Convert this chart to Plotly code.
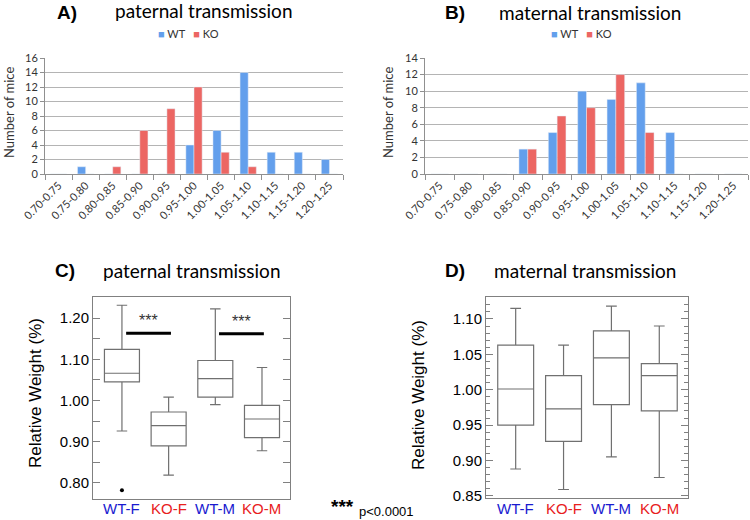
import plotly.graph_objects as go

# ---------------- data ----------------
bins = ["0.70-0.75", "0.75-0.80", "0.80-0.85", "0.85-0.90", "0.90-0.95", "0.95-1.00",
        "1.00-1.05", "1.05-1.10", "1.10-1.15", "1.15-1.20", "1.20-1.25"]
pat_wt = [0, 1, 0, 0, 0, 4, 6, 14, 3, 3, 2]
pat_ko = [0, 0, 1, 6, 9, 12, 3, 1, 0, 0, 0]
mat_wt = [0, 0, 0, 3, 5, 10, 9, 11, 5, 0, 0]
mat_ko = [0, 0, 0, 3, 7, 8, 12, 5, 0, 0, 0]

groups = ["WT-F", "KO-F", "WT-M", "KO-M"]
group_colors = ["#1a1ad0", "#e8201c", "#1a1ad0", "#e8201c"]

pat_lo = [0.926, 0.819, 0.990, 0.878]
pat_q1 = [1.045, 0.890, 1.008, 0.910]
pat_med = [1.066, 0.939, 1.053, 0.955]
pat_q3 = [1.124, 0.972, 1.097, 0.988]
pat_hi = [1.231, 1.008, 1.222, 1.080]
pat_out_x = ["WT-F"]
pat_out_y = [0.782]

mat_lo = [0.888, 0.859, 0.905, 0.876]
mat_q1 = [0.950, 0.927, 0.979, 0.970]
mat_med = [1.001, 0.973, 1.045, 1.020]
mat_q3 = [1.063, 1.020, 1.083, 1.037]
mat_hi = [1.115, 1.063, 1.118, 1.090]

# significance bars in panel C (x from, x to, y)
sig_bars = [(0.09, 1.05, 1.163), (2.08, 3.04, 1.162)]

WT_COL = "#639fec"
KO_COL = "#ec6663"
BOX_LINE = "#707070"
TITLE_FONT = "Lato"
BODY_FONT = "Liberation Sans"

W, H = 750, 520


def px_x(x):
    return x / W


def px_y(y):
    return 1 - y / H


fig = go.Figure()

# ---------------- histograms ----------------
fig.add_trace(go.Bar(x=bins, y=pat_wt, name="WT", marker_color=WT_COL, xaxis="x", yaxis="y"))
fig.add_trace(go.Bar(x=bins, y=pat_ko, name="KO", marker_color=KO_COL, xaxis="x", yaxis="y"))
fig.add_trace(go.Bar(x=bins, y=mat_wt, name="WT", marker_color=WT_COL, xaxis="x2", yaxis="y2"))
fig.add_trace(go.Bar(x=bins, y=mat_ko, name="KO", marker_color=KO_COL, xaxis="x2", yaxis="y2"))

# ---------------- box plots ----------------
box_common = dict(fillcolor="white", line=dict(color=BOX_LINE, width=1.2), width=0.75,
                  whiskerwidth=0.3, boxpoints=False, hoverinfo="skip")
fig.add_trace(go.Box(x=groups, q1=pat_q1, median=pat_med, q3=pat_q3, lowerfence=pat_lo,
                     upperfence=pat_hi, xaxis="x3", yaxis="y3", **box_common))
fig.add_trace(go.Scatter(x=pat_out_x, y=pat_out_y, mode="markers", marker=dict(color="black", size=4),
                         xaxis="x3", yaxis="y3"))
fig.add_trace(go.Box(x=groups, q1=mat_q1, median=mat_med, q3=mat_q3, lowerfence=mat_lo,
                     upperfence=mat_hi, xaxis="x4", yaxis="y4", **box_common))

hist_x = dict(type="category", tickangle=-45, tickson="boundaries", ticks="outside", ticklen=5,
              tickcolor="#909090", showline=True, linecolor="#909090", showgrid=False, automargin=False,
              tickfont=dict(family=TITLE_FONT, size=11, color="#333"))
hist_y = dict(dtick=2, showgrid=True, gridcolor="#b4b4b4", showline=True, linecolor="#909090",
              ticks="outside", ticklen=4, tickcolor="#909090", zeroline=False, automargin=False,
              tickfont=dict(family=TITLE_FONT, size=11, color="#333"))

box_x = dict(type="category", range=[-0.62, 3.6], showline=True, mirror=True, linecolor="#808080",
             ticks="", showticklabels=False, showgrid=False, automargin=False)
box_y = dict(tick0=0, tickformat=".2f", ticks="inside", ticklen=7, tickcolor="#808080",
             showline=True, mirror="ticks", linecolor="#808080", showgrid=False, zeroline=False,
             automargin=False, tickfont=dict(family=BODY_FONT, size=15))

fig.update_layout(
    width=W, height=H, margin=dict(l=0, r=0, t=0, b=0, autoexpand=False),
    paper_bgcolor="white", plot_bgcolor="white", showlegend=False,
    font=dict(family=BODY_FONT, color="black"),
    bargap=0.4, bargroupgap=0,
    xaxis=dict(domain=[px_x(45), px_x(343)], anchor="y", **hist_x),
    yaxis=dict(domain=[px_y(174), px_y(58)], anchor="x", range=[0, 16], **hist_y),
    xaxis2=dict(domain=[px_x(425), px_x(748)], anchor="y2", **hist_x),
    yaxis2=dict(domain=[px_y(174), px_y(58)], anchor="x2", range=[0, 14], **hist_y),
    xaxis3=dict(domain=[px_x(93), px_x(290)], anchor="y3", **box_x),
    yaxis3=dict(domain=[px_y(499), px_y(297)], anchor="x3", range=[0.761, 1.251], dtick=0.1,
                minor=dict(dtick=0.05, tick0=0, ticks="inside", ticklen=7, tickcolor="#808080"),
                **box_y),
    xaxis4=dict(domain=[px_x(486), px_x(688)], anchor="y4", **box_x),
    yaxis4=dict(domain=[px_y(498), px_y(297)], anchor="x4", range=[0.847, 1.131], dtick=0.05,
                minor=dict(dtick=0.01, tick0=0, ticks="inside", ticklen=4, tickcolor="#808080"),
                **box_y),
)

# category labels under box plots
for ax in ("x3", "x4"):
    for g, c in zip(groups, group_colors):
        fig.add_annotation(xref=ax, yref="paper", x=g, y=px_y(508), text=g, showarrow=False,
                           xanchor="center", yanchor="middle",
                           font=dict(family=BODY_FONT, size=15, color=c))

# y-axis titles
ytitles = [("Number of mice", 9, 113, TITLE_FONT, 13, "#333"),
           ("Number of mice", 388, 113, TITLE_FONT, 13, "#333"),
           ("Relative Weight (%)", 35, 393, BODY_FONT, 17, "black"),
           ("Relative Weight (%)", 418, 395, BODY_FONT, 17, "black")]
for txt, x, y, fam, sz, col in ytitles:
    fig.add_annotation(xref="paper", yref="paper", x=px_x(x), y=px_y(y), text=txt, textangle=-90,
                       showarrow=False, xanchor="center", yanchor="middle",
                       font=dict(family=fam, size=sz, color=col))

# legends (A and B)
for cx in (188, 581):
    fig.add_annotation(xref="paper", yref="paper", x=px_x(cx), y=px_y(33),
                       text=f"<span style='color:{WT_COL}'>■</span> WT   <span style='color:{KO_COL}'>■</span> KO",
                       showarrow=False, xanchor="center", yanchor="middle",
                       font=dict(family=TITLE_FONT, size=11, color="#333"))

# significance bars
for x0, x1, y in sig_bars:
    fig.add_shape(type="line", xref="x3", yref="y3", x0=x0, x1=x1, y0=y, y1=y,
                  line=dict(color="black", width=3))
    fig.add_annotation(xref="x3", yref="y3", x=(x0 + x1) / 2, y=y + 0.005, text="***",
                       showarrow=False, yanchor="bottom", font=dict(family=BODY_FONT, size=16, color="#333"))

# panel titles
titles = [("A)", 67, 12, "paternal transmission", 204, 10),
          ("B)", 455, 12, "maternal transmission", 590, 12),
          ("C)", 65, 270, "paternal transmission", 192, 270),
          ("D)", 455, 270, "maternal transmission", 585, 270)]
for lab, lx, ly, txt, tx, ty in titles:
    fig.add_annotation(xref="paper", yref="paper", x=px_x(lx), y=px_y(ly), text=f"<b>{lab}</b>",
                       showarrow=False, xanchor="center", yanchor="middle",
                       font=dict(family=BODY_FONT, size=19, color="black"))
    fig.add_annotation(xref="paper", yref="paper", x=px_x(tx), y=px_y(ty), text=txt,
                       showarrow=False, xanchor="center", yanchor="middle",
                       font=dict(family=TITLE_FONT, size=19, color="black"))

# p-value footnote
fig.add_annotation(xref="paper", yref="paper", x=px_x(329), y=px_y(506), text="<b>***</b>",
                   showarrow=False, xanchor="left", yanchor="middle",
                   font=dict(family=BODY_FONT, size=19, color="black"))
fig.add_annotation(xref="paper", yref="paper", x=px_x(357), y=px_y(511), text="p<0.0001",
                   showarrow=False, xanchor="left", yanchor="middle",
                   font=dict(family=BODY_FONT, size=13, color="black"))

fig.write_html("out.html", config={"displayModeBar": False},
               post_script="document.body.style.margin='0px';")
